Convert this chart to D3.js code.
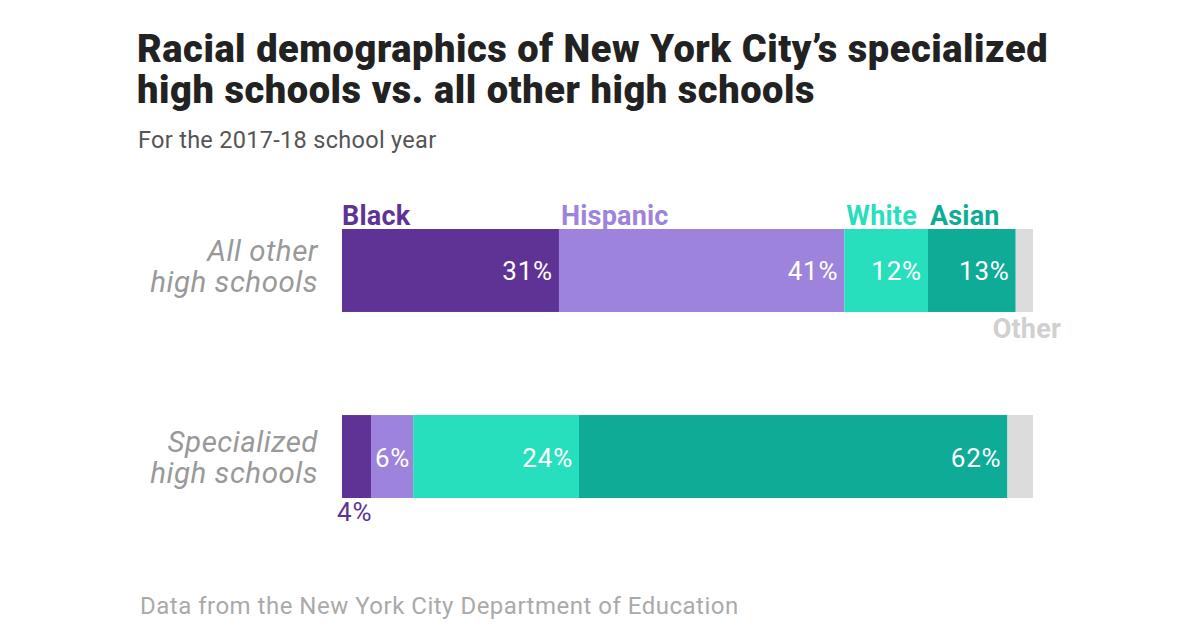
<!DOCTYPE html>
<html>
<head>
<meta charset="utf-8">
<script src="https://cdn.jsdelivr.net/npm/d3@7"></script>
<style>
  body { margin: 0; background: #fff; }
  svg { font-family: Roboto, "Liberation Sans", sans-serif; }
</style>
</head>
<body>
<svg width="1200" height="630"></svg>
<script>
// data
var groups = ["All other high schools", "Specialized high schools"];
var groupLines = [["All other", "high schools"], ["Specialized", "high schools"]];
var races = ["Black", "Hispanic", "White", "Asian", "Other"];
var allOther = [31.4, 41.3, 12.1, 12.7, 2.5];
var specialized = [4.2, 6.1, 24.0, 62.0, 3.7];
var colors = ["#5f3396", "#9d83dc", "#28dfbd", "#0eab97", "#dcdcdc"];

var svg = d3.select("svg");

svg.append("text").attr("x", 137).attr("y", 62)
  .attr("font-size", 38).attr("font-weight", 900).attr("fill", "#222")
  .attr("letter-spacing", 0.55)
  .text("Racial demographics of New York City\u2019s specialized");
svg.append("text").attr("x", 137).attr("y", 103)
  .attr("font-size", 38).attr("font-weight", 900).attr("fill", "#222")
  .attr("letter-spacing", 0.55)
  .text("high schools vs. all other high schools");
svg.append("text").attr("x", 138).attr("y", 148)
  .attr("font-size", 23.5).attr("fill", "#555").attr("letter-spacing", 0.3)
  .text("For the 2017-18 school year");
svg.append("text").attr("x", 140).attr("y", 614)
  .attr("font-size", 24).attr("fill", "#aaa").attr("letter-spacing", 0.5)
  .text("Data from the New York City Department of Education");

var x = d3.scaleLinear().domain([0, 100]).range([342, 1033]);
var y = d3.scaleBand().domain(groups).range([229, 498]).paddingInner(0.554);

var rows = [allOther, specialized].map(function(vals, gi) {
  var acc = 0;
  return vals.map(function(v, i) {
    var d = {group: groups[gi], gi: gi, race: races[i], i: i, v: v, x0: acc, x1: acc + v};
    acc += v;
    return d;
  });
});

var g = svg.append("g");
rows.forEach(function(segs) {
  g.selectAll(null).data(segs).enter().append("rect")
    .attr("x", function(d) { return x(d.x0); })
    .attr("y", function(d) { return y(d.group); })
    .attr("width", function(d) { return x(d.x1) - x(d.x0); })
    .attr("height", y.bandwidth())
    .attr("fill", function(d) { return colors[d.i]; });

  // percent labels
  g.selectAll(null).data(segs.filter(function(d) { return d.i < 4; })).enter().append("text")
    .attr("x", function(d) {
      if (d.v < 5) return x(d.x0) - 5;
      return x(d.x1) - (d.v < 8 ? 3 : 6);
    })
    .attr("y", function(d) {
      return d.v < 5 ? y(d.group) + y.bandwidth() + 23 : y(d.group) + y.bandwidth() / 2 + 10;
    })
    .attr("text-anchor", function(d) { return d.v < 5 ? "start" : "end"; })
    .attr("font-size", 26).attr("letter-spacing", 0.8)
    .attr("fill", function(d) { return d.v < 5 ? colors[d.i] : "#fff"; })
    .text(function(d) { return Math.round(d.v) + "%"; });
});

// legend labels on the first bar
var first = rows[0];
svg.selectAll(null).data(first.filter(function(d) { return d.i < 4; })).enter().append("text")
  .attr("x", function(d) { return x(d.x0) + (d.i == 0 ? 0 : 2); })
  .attr("y", y(groups[0]) - 4)
  .attr("font-size", 27).attr("font-weight", 700).attr("letter-spacing", 0.2)
  .attr("fill", function(d) { return colors[d.i]; })
  .text(function(d) { return d.race; });
svg.append("text")
  .attr("x", x(100) + 28).attr("y", y(groups[0]) + y.bandwidth() + 26)
  .attr("text-anchor", "end")
  .attr("font-size", 27).attr("font-weight", 700).attr("letter-spacing", 0.2).attr("fill", "#d0d0d0")
  .text("Other");

// group labels
groupLines.forEach(function(lines, gi) {
  var top = y(groups[gi]) + (gi == 0 ? 32 : 37);
  lines.forEach(function(t, li) {
    svg.append("text")
      .attr("x", 318).attr("y", top + li * 31)
      .attr("text-anchor", "end")
      .attr("font-size", 29.5).attr("font-style", "italic").attr("fill", "#999")
      .attr("letter-spacing", 0.5)
      .text(t);
  });
});
</script>
</body>
</html>
